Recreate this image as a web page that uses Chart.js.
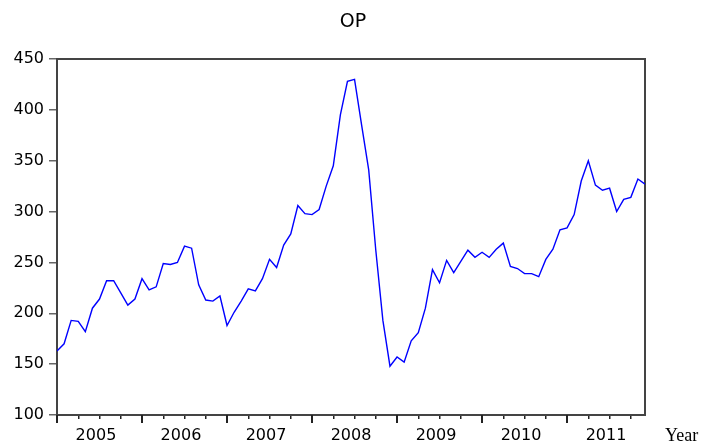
<!DOCTYPE html>
<html>
<head>
<meta charset="utf-8">
<script src="https://cdn.jsdelivr.net/npm/chart.js@4"></script>
<style>
  body { margin: 0; background: #fff; }
</style>
</head>
<body>
<canvas id="chart" width="705" height="443"></canvas>
<script>
// monthly values, Jan 2005 .. Dec 2011
const years = ["2005", "2006", "2007", "2008", "2009", "2010", "2011"];
const op = [
  163, 170, 193, 192, 182, 205, 214, 232, 232, 220, 208, 214,
  234, 223, 226, 249, 248, 250, 266, 264, 228, 213, 212, 217,
  188, 201, 212, 224, 222, 234, 253, 245, 267, 278, 306, 298,
  297, 302, 325, 345, 395, 428, 430, 385, 341, 262, 193, 148,
  157, 152, 173, 181, 205, 243, 230, 252, 240, 251, 262, 255,
  260, 255, 263, 269, 246, 244, 239, 239, 236, 253, 263, 282,
  284, 297, 330, 350, 326, 321, 323, 300, 312, 314, 332, 327
];

const axisColor = "#444";
const font = { family: "'DejaVu Sans', sans-serif", size: 16 };

function isLabelTick(v) {
  return Math.abs((v % 12) - 5.5) < 0.01;
}

const extras = {
  id: "extras",
  afterDraw(chart) {
    const ctx = chart.ctx;
    const x = chart.scales.x;
    const bottom = chart.chartArea.bottom;
    ctx.save();
    // longer tick marks at year boundaries
    ctx.strokeStyle = "#222";
    ctx.lineWidth = 2;
    for (let m = 0; m < op.length; m += 12) {
      const px = Math.round(x.getPixelForValue(m));
      ctx.beginPath();
      ctx.moveTo(px, bottom);
      ctx.lineTo(px, bottom + 8);
      ctx.stroke();
    }
    ctx.fillStyle = "#000";
    ctx.font = "19px 'DejaVu Sans', sans-serif";
    ctx.textAlign = "center";
    ctx.textBaseline = "middle";
    ctx.fillText("OP", (chart.chartArea.left + chart.chartArea.right) / 2 + 2, 22);
    ctx.font = "18px 'Liberation Serif', 'Times New Roman', serif";
    ctx.textAlign = "left";
    ctx.textBaseline = "alphabetic";
    ctx.fillText("Year", 665, 441);
    ctx.restore();
  }
};

new Chart(document.getElementById("chart"), {
  type: "line",
  data: {
    datasets: [{
      data: op.map((v, i) => ({ x: i, y: v })),
      borderColor: "#0000ff",
      borderWidth: 1.4,
      pointRadius: 0,
      tension: 0,
      fill: false
    }]
  },
  options: {
    responsive: false,
    animation: false,
    devicePixelRatio: 1,
    layout: { padding: 0 },
    plugins: {
      legend: { display: false },
      title: { display: false },
      tooltip: { enabled: false }
    },
    scales: {
      x: {
        type: "linear",
        min: 0,
        max: op.length - 1,
        afterBuildTicks(scale) {
          const t = [];
          for (let m = 0; m < op.length; m += 3) t.push({ value: m });
          years.forEach((y, i) => t.push({ value: i * 12 + 5.5 }));
          t.sort((a, b) => a.value - b.value);
          scale.ticks = t;
        },
        afterFit(scale) { scale.height = 28; },
        grid: {
          drawOnChartArea: false,
          tickLength: 4,
          lineWidth: 1.5,
          color: ctx => (ctx.tick && isLabelTick(ctx.tick.value)) ? "rgba(0,0,0,0)" : "#222"
        },
        border: { color: axisColor, width: 2 },
        ticks: {
          autoSkip: false,
          maxRotation: 0,
          padding: 7,
          color: "#000",
          font: font,
          callback: v => isLabelTick(v) ? years[Math.floor(v / 12)] : ""
        }
      },
      y: {
        min: 100,
        max: 450,
        afterFit(scale) { scale.width = 57; },
        grid: { drawOnChartArea: false, tickLength: 8, color: "#666", lineWidth: 1.5 },
        border: { color: axisColor, width: 2 },
        ticks: { stepSize: 50, padding: 5, color: "#000", font: font }
      },
      top: {
        type: "linear",
        position: "top",
        afterFit(scale) { scale.height = 59; },
        grid: { drawOnChartArea: false, drawTicks: false },
        border: { color: axisColor, width: 2 },
        ticks: { display: false }
      },
      right: {
        type: "linear",
        position: "right",
        afterFit(scale) { scale.width = 60; },
        grid: { drawOnChartArea: false, drawTicks: false },
        border: { color: axisColor, width: 2 },
        ticks: { display: false }
      }
    }
  },
  plugins: [extras]
});
</script>
</body>
</html>
